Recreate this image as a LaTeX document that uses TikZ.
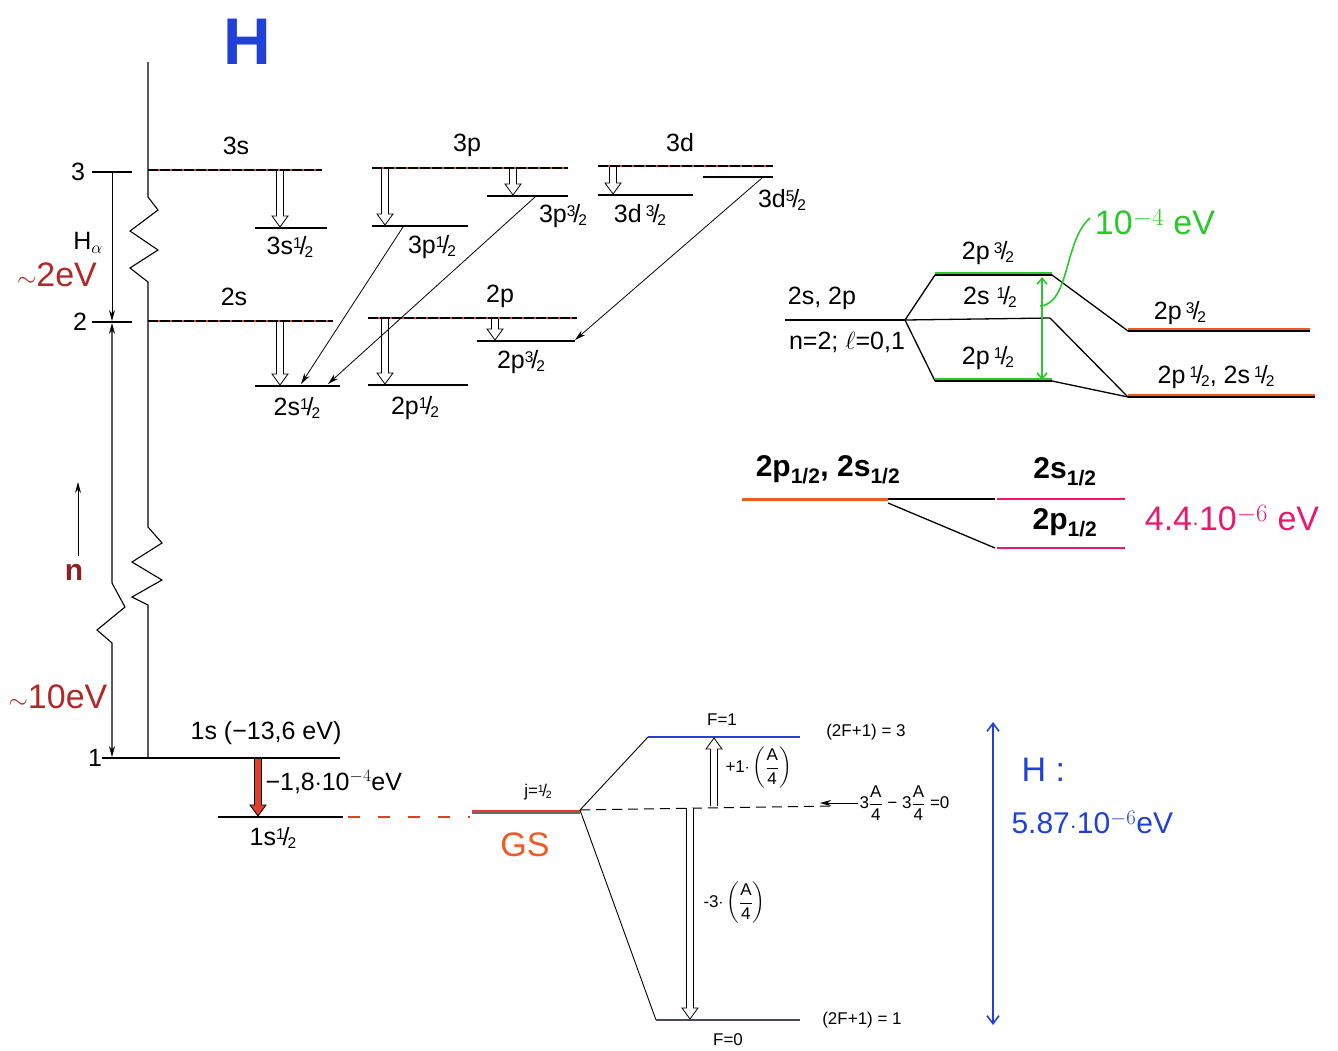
\documentclass[tikz,border=0pt]{standalone}
\usepackage{fontspec}
\setmainfont{Liberation Sans}
\usepackage{amsmath}
\usetikzlibrary{arrows.meta, positioning, calc}
\definecolor{HandRed}{HTML}{B02828}
\definecolor{HandOrange}{HTML}{EE5A24}
\definecolor{HandPink}{HTML}{E8196E}
\definecolor{HandGreen}{HTML}{2BC82B}
\definecolor{HandBlue}{HTML}{2040D8}
\definecolor{LevelRed}{HTML}{E0402A}
\newcommand\fr[2]{\raisebox{.45ex}{\scalebox{.62}{#1}}\kern-.08em/\kern-.08em\raisebox{-.2ex}{\scalebox{.62}{#2}}}
\newcommand\hollowarrow[3][white]{%
  \filldraw[fill=#1, line width=0.8pt, line join=miter]
    let \p1=(#2), \p2=(#3), \n1={ifthenelse(\y2>\y1,1,-1)} in
    (\x1-3.5pt,\y1) -- (\x1-3.5pt,\y2-\n1*11pt) -- (\x1-8pt,\y2-\n1*11pt) -- (\x2,\y2)
    -- (\x1+8pt,\y2-\n1*11pt) -- (\x1+3.5pt,\y2-\n1*11pt) -- (\x1+3.5pt,\y1);}

\begin{document}
\begin{tikzpicture}[x=1pt, y=-1pt,
    lvl/.style={line width=1.3pt},
    nlvl/.style={draw=LevelRed, line width=1.8pt,
      postaction={draw=black, line width=1.2pt, dash pattern=on 10pt off 2pt}},
    glvl/.style={line width=1.4pt,
      postaction={draw=HandGreen, line width=2pt, transform canvas={yshift=2pt}}},
    olvl/.style={line width=1.4pt,
      postaction={draw=HandOrange, line width=2pt, transform canvas={yshift=2pt}}},
    blvl/.style={draw=HandBlue, line width=2pt,
      postaction={draw=black!70, line width=1pt}},
    plvl/.style={draw=HandPink, line width=2.6pt},
    tarr/.style={line width=0.8pt, -{Stealth[length=11pt, width=6pt]}},
    lab/.style={font=\fontsize{25}{25}\selectfont},
    smalllab/.style={font=\fontsize{17}{17}\selectfont},
    hand/.style={font=\fontsize{34}{34}\selectfont}
  ]
  \useasboundingbox (0,0) rectangle (1338,1050);

  \node[font=\fontsize{66}{66}\selectfont\bfseries, text=HandBlue] (title) at (247,42) {H};

  % n axis
  \node[lab] (n3) at (78,172) {3};
  \node[lab] (n2) at (80,322) {2};
  \node[lab] (n1) at (95,758) {1};
  \draw[lvl] (92,172) -- (132,172);
  \draw[lvl] (92,322) -- (132,322);
  \coordinate (ax3) at (112,172);
  \coordinate (ax2) at (112,321);
  \coordinate (ax2b) at (112,323);
  \coordinate (ax1) at (112,757);
  \draw[tarr] (ax3) -- (ax2);
  \draw[draw=black, line width=1.1pt, {Stealth[length=11pt, width=6pt]}-{Stealth[length=11pt, width=6pt]}]
    (ax2b) -- (112,583) -- (125,607) -- (97,630) -- (112,643) -- (ax1);
  \node[lab] (halpha) at (88,243) {H\textsubscript{$\alpha$}};
  \node[hand, text=HandRed] (e2) at (57,275) {$\sim$2eV};
  \coordinate (nlow) at (78,556);
  \coordinate (nhigh) at (78,482);
  \draw[tarr, line width=1pt] (nlow) -- (nhigh);
  \node[hand, text=HandRed!80!black, font=\fontsize{30}{30}\selectfont\bfseries] (nlab) at (74,572) {n};
  \node[hand, text=HandRed] (e10) at (58,697) {$\sim$10eV};

  % main line
  \draw[line width=1.1pt] (148,62) -- (148,197) -- (158,210) -- (130,231) -- (158,250)
    -- (130,268) -- (148,282) -- (148,527) -- (162,543) -- (132,562) -- (162,580)
    -- (132,597) -- (148,605) -- (148,758);

  % n = 3
  \draw[nlvl] (148,170) -- (322,170);
  \node[lab] (l3s) at (236,146) {3s};
  \draw[lvl] (255,228) -- (327,228);
  \node[lab] (l3s1) at (290,247) {3s\fr12};
  \hollowarrow{280,171}{280,227}

  \draw[nlvl] (372,168) -- (568,168);
  \node[lab] (l3p) at (467,145) {3p};
  \draw[lvl] (372,226) -- (468,226);
  \node[lab] (l3p1) at (432,247) {3p\fr12};
  \hollowarrow{385,169}{385,225}
  \draw[lvl] (487,196) -- (568,196);
  \node[lab] (l3p3) at (563,216) {3p\fr32};
  \hollowarrow{513,169}{513,195}

  \draw[nlvl] (598,166) -- (773,166);
  \node[lab] (l3d) at (680,143) {3d};
  \draw[lvl] (598,195) -- (693,195);
  \node[lab] (l3d3) at (640,215) {3d\,\fr32};
  \hollowarrow{613,167}{613,194}
  \draw[lvl] (703,177) -- (773,177);
  \node[lab] (l3d5) at (782,200) {3d\fr52};

  % n = 2
  \draw[nlvl] (148,321) -- (333,321);
  \node[lab] (l2s) at (234,297) {2s};
  \draw[lvl] (255,386) -- (340,386);
  \node[lab] (l2s1) at (297,408) {2s\fr12};
  \hollowarrow{280,322}{280,385}

  \draw[nlvl] (368,318) -- (577,318);
  \node[lab] (l2p) at (500,296) {2p};
  \draw[lvl] (368,385) -- (468,385);
  \node[lab] (l2p1) at (415,408) {2p\fr12};
  \hollowarrow{385,319}{385,384}
  \draw[lvl] (477,341) -- (575,341);
  \node[lab] (l2p3) at (521,362) {2p\fr32};
  \hollowarrow{495,319}{495,340}

  \coordinate (a3p1) at (403,227);
  \coordinate (a3p3) at (535,197);
  \coordinate (a3d5) at (762,178);
  \coordinate (a2s1) at (301,384);
  \coordinate (a2s1b) at (328,384);
  \coordinate (a2p3) at (575,340);
  \draw[tarr] (a3p1) -- (a2s1);
  \draw[tarr] (a3p3) -- (a2s1b);
  \draw[tarr] (a3d5) -- (a2p3);

  % fine structure n = 2
  \draw[lvl] (785,320) -- (905,320);
  \node[lab] (r2s2p) at (822,298) {2s, 2p};
  \node[lab] (rn2) at (847,342) {n=2; $\ell$=0,1};
  \coordinate (split) at (905,320);
  \draw[lvl] (split) -- (935,275);
  \draw[lvl] (split) -- (935,381);
  \draw[glvl] (935,275) -- (1052,275);
  \draw[lvl] (split) -- (1050,318);
  \draw[glvl] (935,381) -- (1052,381);
  \node[lab] (r2p3) at (988,253) {2p\,\fr32};
  \node[lab] (r2s1) at (990,297) {2s \fr12};
  \node[lab] (r2p1) at (988,358) {2p\,\fr12};
  \draw[lvl] (1052,275) -- (1128,331);
  \draw[lvl] (1050,318) -- (1128,397);
  \draw[lvl] (1052,381) -- (1128,397);
  \draw[olvl] (1128,331) -- (1310,331);
  \draw[olvl] (1128,397) -- (1315,397);
  \node[lab] (q2p3) at (1180,313) {2p\,\fr32};
  \node[lab] (q2p1) at (1216,377) {2p\,\fr12, 2s\,\fr12};
  \coordinate (gtop) at (1042,277);
  \coordinate (gbot) at (1042,380);
  \draw[HandGreen, line width=1.6pt, {Straight Barb[length=6pt, width=10pt]}-{Straight Barb[length=6pt, width=10pt]}] (gtop) -- (gbot);
  \node[hand, text=HandGreen] (g4) at (1155,222) {10$^{-4}$ eV};
  \draw[HandGreen, line width=1.6pt] (1040,306) .. controls (1070,304) and (1064,240) .. (1090,218);

  % Lamb shift
  \draw[line width=3pt, HandOrange] (742,499) -- (888,499);
  \node[font=\fontsize{30}{30}\selectfont\bfseries] (m2p) at (828,470) {2p\textsubscript{1/2}, 2s\textsubscript{1/2}};
  \draw[lvl] (888,499) -- (995,499);
  \draw[lvl] (888,503) -- (995,548);
  \draw[plvl] (997,499) -- (1125,499);
  \draw[plvl] (997,548) -- (1125,548);
  \node[font=\fontsize{30}{30}\selectfont\bfseries] (m2s) at (1065,472) {2s\textsubscript{1/2}};
  \node[font=\fontsize{30}{30}\selectfont\bfseries] (m2pp) at (1065,523) {2p\textsubscript{1/2}};
  \node[hand, text=HandPink] (lamb) at (1232,518) {4.4$\cdot$10$^{-6}$ eV};

  % n = 1
  \draw[lvl] (102,758) -- (340,758);
  \node[lab] (l1s) at (266,733) {1s (−13,6 eV)};
  \draw[lvl] (218,817) -- (343,817);
  \node[lab] (l1s1) at (273,838) {1s\fr12};
  \hollowarrow[LevelRed]{258,759}{258,816}
  \node[lab, anchor=west] (lshift) at (262,782) {−1,8$\cdot$10$^{-4}$eV};
  \draw[LevelRed, line width=2pt, dash pattern=on 12pt off 18pt] (348,817) -- (470,817);
  \draw[line width=3.2pt, LevelRed, postaction={draw=black!60, line width=0.8pt}] (472,812) -- (580,812);
  \node[smalllab] (jlab) at (538,792) {j=\fr12};
  \node[hand, text=HandOrange] (gs) at (525,845) {GS};

  % hyperfine
  \coordinate (hf) at (580,810);
  \draw[lvl, line width=0.9pt] (hf) -- (648,737);
  \draw[lvl, line width=0.9pt] (hf) -- (656,1020);
  \draw[blvl] (648,737) -- (800,737);
  \draw[blvl] (656,1020) -- (800,1020);
  \draw[line width=1pt, dash pattern=on 10pt off 6pt] (hf) -- (830,806);
  \node[smalllab] (f1) at (722,720) {F=1};
  \node[smalllab] (f0) at (728,1040) {F=0};
  \node[smalllab] (g3) at (866,732) {(2F+1) = 3};
  \node[smalllab] (g1) at (862,1020) {(2F+1) = 1};
  \hollowarrow{714,806}{714,738}
  \hollowarrow{690,808}{690,1019}
  \node[smalllab, anchor=west] (plus) at (722,768) {+1$\cdot\left(\dfrac{\text{A}}{\text{4}}\right)$};
  \node[smalllab, anchor=west] (minus) at (700,903) {-3$\cdot\left(\dfrac{\text{A}}{\text{4}}\right)$};
  \coordinate (zs) at (858,803);
  \coordinate (ze) at (820,803);
  \draw[tarr] (zs) -- (ze);
  \node[smalllab, anchor=west] (zero) at (856,803) {3$\dfrac{\text{A}}{\text{4}}$ − 3$\dfrac{\text{A}}{\text{4}}$ =0};
  \coordinate (btop) at (993,722);
  \coordinate (bbot) at (993,1025);
  \draw[HandBlue, line width=1.6pt, {Straight Barb[length=8pt, width=12pt]}-{Straight Barb[length=8pt, width=12pt]}] (btop) -- (bbot);
  \node[hand, text=HandBlue, anchor=west] (hh) at (1018,770) {H :};
  \node[hand, text=HandBlue, anchor=west, font=\fontsize{30}{30}\selectfont] (hhv) at (1008,822) {5.87$\cdot$10$^{-6}$eV};
\end{tikzpicture}
\end{document}
